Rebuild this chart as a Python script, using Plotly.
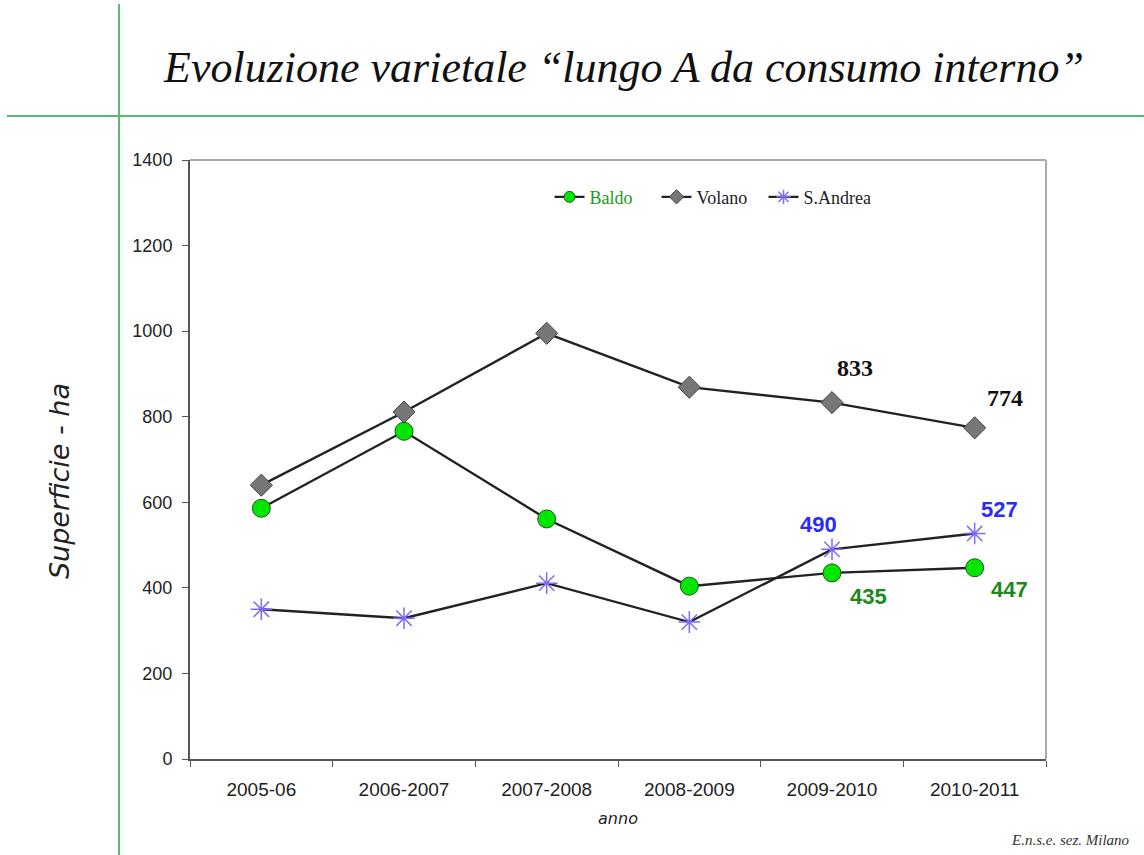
import plotly.graph_objects as go

anni = ["2005-06", "2006-2007", "2007-2008", "2008-2009", "2009-2010", "2010-2011"]
baldo = [586, 766, 561, 404, 435, 447]
volano = [640, 811, 995, 869, 833, 774]
sandrea = [350, 329, 411, 320, 490, 527]

fig = go.Figure()
line_col = "#222222"
series = [
    ("Baldo", baldo, "#1a9a1a", dict(symbol="circle", size=18, color="#00e600",
                                     line=dict(color="#1a5a1a", width=1)),
     dict(symbol="circle", size=11, color="#00e600", line=dict(color="#1a5a1a", width=1))),
    ("Volano", volano, "#222222", dict(symbol="diamond", size=17, color="#777777",
                                       line=dict(color="#444444", width=1)),
     dict(symbol="diamond", size=11, color="#777777", line=dict(color="#444444", width=1))),
    ("S.Andrea", sandrea, "#222222", dict(symbol="asterisk-open", size=18, color="#7b6cff",
                                          line=dict(color="#7b6cff", width=1.5)),
     dict(symbol="asterisk-open", size=12, color="#7b6cff", line=dict(color="#7b6cff", width=1.5))),
]
for name, vals, tcol, mk, lmk in series:
    fig.add_trace(go.Scatter(x=anni, y=vals, name=name, mode="lines+markers", showlegend=False,
                             line=dict(color=line_col, width=2.4), marker=mk))
for name, vals, tcol, mk, lmk in series:
    fig.add_trace(go.Scatter(x=[None], y=[None], mode="lines+markers",
                             name="<span style='color:%s'>%s</span>" % (tcol, name),
                             line=dict(color=line_col, width=2.4), marker=lmk))

# value labels
labels = [
    (4, volano[4], "833", "#111111", "Liberation Serif", 24, 23, 35),
    (5, volano[5], "774", "#111111", "Liberation Serif", 24, 30, 30),
    (4, sandrea[4], "490", "#2a2aff", "Liberation Sans", 22, -14, 25),
    (5, sandrea[5], "527", "#2a2aff", "Liberation Sans", 22, 25, 24),
    (4, baldo[4], "435", "#1a8a1a", "Liberation Sans", 22, 36, -24),
    (5, baldo[5], "447", "#1a8a1a", "Liberation Sans", 22, 35, -22),
]
for i, v, t, c, f, s, dx, dy in labels:
    fig.add_annotation(x=anni[i], y=v, text="<b>%s</b>" % t, showarrow=False,
                       xshift=dx, yshift=dy, font=dict(family=f, size=s, color=c))

# decorative slide lines
green = "#55bb77"
fig.add_shape(type="line", xref="paper", yref="paper", x0=-0.0829, x1=-0.0829,
              y0=1.2604, y1=-0.161, line=dict(color=green, width=2))
fig.add_shape(type="line", xref="paper", yref="paper", x0=-0.2138, x1=1.115,
              y0=1.0735, y1=1.0735, line=dict(color=green, width=2))
# top and right frame
fig.add_shape(type="line", xref="paper", yref="paper", x0=0, x1=1, y0=1, y1=1,
              line=dict(color="#aaaaaa", width=2))
fig.add_shape(type="line", xref="paper", yref="paper", x0=1, x1=1, y0=0, y1=1,
              line=dict(color="#aaaaaa", width=2))

fig.add_annotation(xref="paper", yref="paper", x=0.506, y=1.155, xanchor="center", yanchor="middle",
                   text="<i>Evoluzione varietale “lungo A da consumo interno”</i>",
                   showarrow=False, font=dict(family="Liberation Serif", size=44, color="#111111"))
fig.add_annotation(xref="paper", yref="paper", x=1.1005, y=-0.135, xanchor="right", yanchor="middle",
                   text="<i>E.n.s.e. sez. Milano</i>", showarrow=False,
                   font=dict(family="Liberation Serif", size=15, color="#333333"))
fig.add_annotation(xref="paper", yref="paper", x=-0.153, y=0.464, xanchor="center", yanchor="middle",
                   text="<i>Superficie - ha</i>", showarrow=False, textangle=-90,
                   font=dict(family="DejaVu Sans", size=27, color="#222222"))

fig.update_layout(
    width=1144, height=855,
    margin=dict(l=190, r=98, t=160, b=96),
    paper_bgcolor="white", plot_bgcolor="white",
    showlegend=True,
    legend=dict(orientation="h", x=0.42, y=0.938, xanchor="left", yanchor="middle",
                font=dict(family="Liberation Serif", size=18, color="#222222"),
                entrywidth=62, entrywidthmode="pixels",
                bgcolor="rgba(0,0,0,0)"),
    xaxis=dict(type="category", range=[-0.5, 5.5], showline=True, linecolor="#555555",
               linewidth=2, ticks="outside",
               tickson="boundaries", ticklen=6, tickcolor="#555555", showgrid=False,
               ticklabelstandoff=12,
               tickfont=dict(family="Liberation Sans", size=19, color="#222222"),
               title=dict(text="<i>anno</i>", standoff=14,
                          font=dict(family="DejaVu Sans", size=16, color="#222222"))),
    yaxis=dict(range=[0, 1400], dtick=200, showline=True, linecolor="#555555", linewidth=2,
               ticks="outside", ticklen=6, tickcolor="#555555", showgrid=False,
               zeroline=False, ticklabelstandoff=6,
               tickfont=dict(family="Liberation Sans", size=18, color="#222222")),
)

fig.write_html("out.html", config={"displayModeBar": False},
               post_script="document.body.style.margin='0';")
